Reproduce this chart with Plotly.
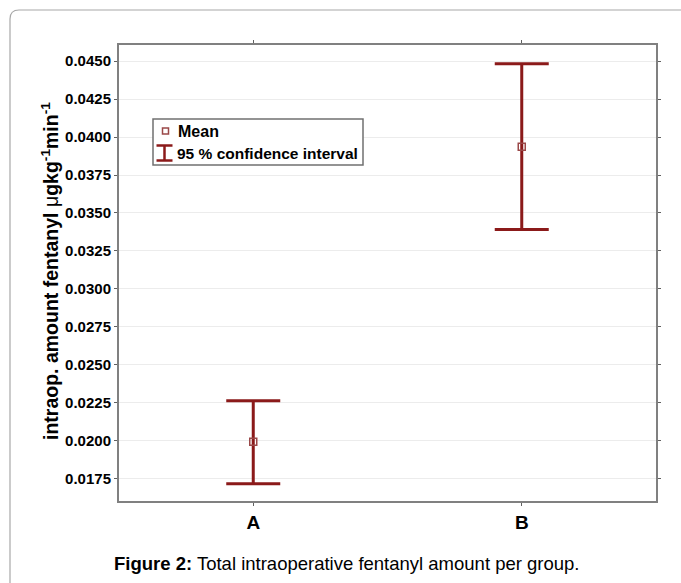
import plotly.graph_objects as go

# ---- data ----
groups = ["A", "B"]
means = [0.01992, 0.03936]
ci_lower = [0.01714, 0.03390]
ci_upper = [0.02262, 0.04484]
y_ticks = [0.0175, 0.0200, 0.0225, 0.0250, 0.0275, 0.0300, 0.0325, 0.0350,
           0.0375, 0.0400, 0.0425, 0.0450]
y_title = ("intraop. amount fentanyl <span style='font-weight:normal'>μ</span>"
           "gkg<sup>-1</sup>min<sup>-1</sup>")
legend_labels = ["Mean", "95 % confidence interval"]
caption = "<b>Figure 2:</b> Total intraoperative fentanyl amount per group."

# ---- layout geometry (pixels) ----
W, H = 681, 583
L, R, T, B = 119, 25, 45, 82
PW, PH = W - L - R, H - T - B

def px(x):
    return (x - L) / PW

def py(y):
    return (H - B - y) / PH

DARK_RED = "#8b1a1a"
MARK = "#9a4848"
FONT = "Arial, Liberation Sans, sans-serif"

fig = go.Figure()
fig.add_trace(go.Scatter(
    x=groups, y=means, mode="markers",
    marker=dict(symbol="square-open", size=7, color=MARK, line=dict(width=1.5, color=MARK)),
    error_y=dict(type="data", symmetric=False,
                 array=[u - m for u, m in zip(ci_upper, means)],
                 arrayminus=[m - l for m, l in zip(means, ci_lower)],
                 color=DARK_RED, thickness=3, width=27),
    showlegend=False,
))

shapes = []
# outer rounded frame (top-left corner visible, others off-canvas)
x0, y0 = px(10), py(10)
x1, y1 = px(700), py(600)
rx, ry = 9 / PW, 9 / PH
shapes.append(dict(
    type="path", xref="paper", yref="paper",
    path=(f"M {x0},{y1} L {x0},{y0 - ry} Q {x0},{y0} {x0 + rx},{y0} "
          f"L {x1},{y0} L {x1},{y1} Z"),
    line=dict(color="#a8a8a8", width=1.2), fillcolor="rgba(0,0,0,0)", layer="below"))

# legend box
shapes.append(dict(type="rect", xref="paper", yref="paper",
                   x0=px(153), x1=px(363), y0=py(165), y1=py(119),
                   line=dict(color="#707070", width=1.5), fillcolor="white"))
# legend mean marker
shapes.append(dict(type="rect", xref="paper", yref="paper",
                   x0=px(162.5), x1=px(168.5), y0=py(134), y1=py(128),
                   line=dict(color=MARK, width=1.5)))
# legend I-beam
ib_x, ib_top, ib_bot, ib_half = 164.5, 145.5, 160.5, 8
for yy in (ib_top, ib_bot):
    shapes.append(dict(type="line", xref="paper", yref="paper",
                       x0=px(ib_x - ib_half), x1=px(ib_x + ib_half), y0=py(yy), y1=py(yy),
                       line=dict(color=DARK_RED, width=2.5)))
shapes.append(dict(type="line", xref="paper", yref="paper",
                   x0=px(ib_x), x1=px(ib_x), y0=py(ib_top), y1=py(ib_bot),
                   line=dict(color=DARK_RED, width=2.5)))

annotations = [
    dict(text=legend_labels[0], xref="paper", yref="paper", x=px(176), y=py(131.5),
         xanchor="left", yanchor="middle", showarrow=False,
         font=dict(family=FONT, size=16, color="black", weight="bold")),
    dict(text=legend_labels[1], xref="paper", yref="paper", x=px(175), y=py(153.5),
         xanchor="left", yanchor="middle", showarrow=False,
         font=dict(family=FONT, size=15.5, color="black", weight="bold")),
    dict(text=y_title, xref="paper", yref="paper", x=px(50), y=py(271),
         xanchor="center", yanchor="middle", textangle=-90, showarrow=False,
         font=dict(family=FONT, size=19.5, color="black", weight="bold")),
    dict(text=caption, xref="paper", yref="paper", x=px(347), y=py(563),
         xanchor="center", yanchor="middle", showarrow=False,
         font=dict(family=FONT, size=18.5, color="black")),
]

fig.update_layout(
    width=W, height=H,
    margin=dict(l=L, r=R, t=T, b=B, pad=0),
    paper_bgcolor="white", plot_bgcolor="white",
    shapes=shapes, annotations=annotations,
    showlegend=False,
    xaxis=dict(type="category", range=[-0.5, 1.5], showgrid=False,
               showline=True, linecolor="#808080", linewidth=2, mirror="ticks",
               ticks="outside", ticklen=3, tickcolor="#606060",
               tickfont=dict(family=FONT, size=19, color="black", weight="bold"),
               zeroline=False),
    yaxis=dict(range=[0.01601, 0.04607], tickvals=y_ticks, tickformat=".4f",
               showgrid=True, gridcolor="#ececec", gridwidth=1,
               showline=True, linecolor="#808080", linewidth=2, mirror="ticks",
               ticks="outside", ticklen=3, tickcolor="#606060",
               tickfont=dict(family=FONT, size=15, color="black", weight="bold"),
               zeroline=False),
)

fig.write_html("out.html", config={"displayModeBar": False},
               post_script="document.body.style.margin='0';document.body.style.padding='0';")
